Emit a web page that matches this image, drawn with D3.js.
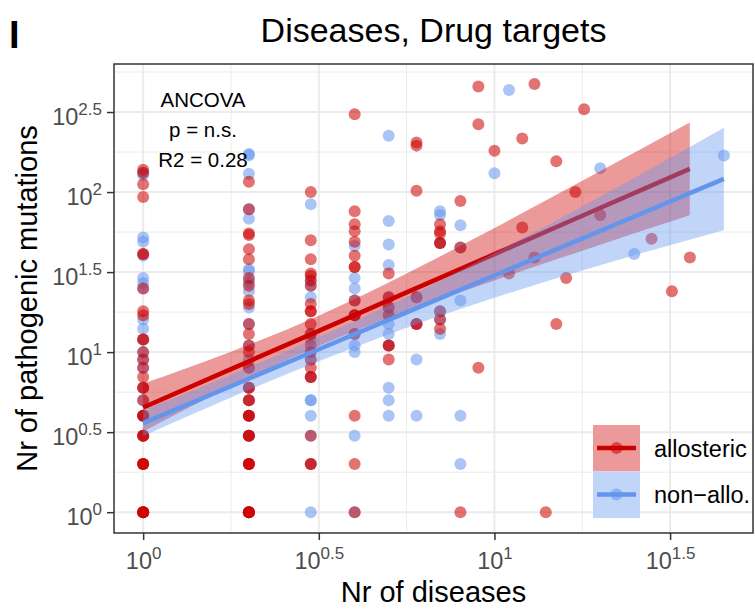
<!DOCTYPE html>
<html>
<head>
<meta charset="utf-8">
<script src="https://cdn.jsdelivr.net/npm/d3@7"></script>
<style>
  body { margin: 0; background: #fff; }
  svg text { font-family: "Liberation Sans", Arial, Helvetica, sans-serif; }
</style>
</head>
<body>
<svg id="chart" width="755" height="611"></svg>
<script>
// points: [nr of diseases, nr of pathogenic mutations]
const allosteric = [
  [1,138],[1,132],[1,112],[1,93],[1,41],[1,41],[1,25],[1,18],[1,17],[1,12],[1,12],[1,10],[1,9],[1,8],
  [1,7],[1,6],[1,6],[1,5],[1,4],[1,4],[1,4],[1,3],[1,3],[1,3],[1,2],[1,2],[1,2],[1,2],[1,1],[1,1],[1,1],[1,1],[1,1],
  [2,116],[2,78],[2,55],[2,54],[2,44],[2,38],[2,29],[2,26],[2,21],[2,20],[2,15],[2,13],[2,11],[2,10],
  [2,8],[2,6],[2,6],[2,5],[2,5],[2,4],[2,4],[2,4],[2,3],[2,3],[2,3],[2,2],[2,2],[2,2],[2,2],[2,1],[2,1],[2,1],[2,1],[2,1],
  [3,100],[3,50],[3,38],[3,31],[3,30],[3,28],[3,26],[3,20],[3,18],[3,18],[3,15],[3,13],[3,11],[3,10],
  [3,9],[3,8],[3,7],[3,7],[3,3],[3,2],[3,2],
  [4,306],[4,76],[4,63],[4,57],[4,49],[4,40],[4,34],[4,34],[4,21],[4,17],[4,17],[4,13],[4,4],[4,2],[4,1],
  [5,31],[5,22],[5,19],[5,17],[5,11],[5,11],[5,9],
  [6,204],[6,195],[6,102],[6,22],[6,15],[6,15],
  [7,63],[7,57],[7,55],[7,48],[7,48],[7,18],[7,16],[7,14],
  [8,88],[8,45],[8,1],
  [9,457],[9,265],[9,8],
  [10,181],[11,31],[12,216],[12,60],[13,473],[13,39],[14,1],[15,156],[15,15],[16,29],[17,100],
  [18,329],[20,72],[28,51],[32,24],[36,39]
];
const nonAllosteric = [
  [1,132],[1,128],[1,52],[1,49],[1,40],[1,29],[1,27],[1,25],[1,16],[1,14],[1,12],[1,10],[1,9],[1,8],
  [1,6],[1,5],[1,4],[1,3],
  [2,173],[2,170],[2,130],[2,78],[2,68],[2,33],[2,32],[2,28],[2,27],[2,24],[2,19],[2,15],[2,11],[2,9],
  [2,8],[2,6],[2,5],[2,4],[2,3],
  [3,84],[3,28],[3,26],[3,22],[3,13],[3,12],[3,10],[3,9],[3,7],[3,5],[3,5],[3,4],[3,3],[3,2],[3,1],
  [4,46],[4,29],[4,25],[4,21],[4,17],[4,13],[4,11],[4,10],[4,3],[4,1],
  [5,225],[5,66],[5,47],[5,35],[5,22],[5,19],[5,17],[5,15],[5,13],[5,11],[5,6],[5,5],[5,4],
  [6,22],[6,15],[6,9],[6,4],
  [7,76],[7,72],[7,48],[7,18],[7,16],[7,13],
  [8,62],[8,45],[8,21],[8,4],[8,2],
  [10,131],[11,434],[20,141],[25,41],[45,169]
];

// lm fits with confidence band in log10 units
const redFitX  = [0, 0.25, 0.5, 0.75, 1, 1.25, 1.556];
const redFit   = [0.654, 0.894, 1.133, 1.373, 1.612, 1.852, 2.145];
const redLo    = [0.504, 0.785, 1.038, 1.255, 1.448, 1.634, 1.855];
const redHi    = [0.804, 1.003, 1.228, 1.491, 1.776, 2.070, 2.435];
const blueFitX = [0, 0.25, 0.5, 0.75, 1, 1.25, 1.653];
const blueFit  = [0.556, 0.787, 1.018, 1.248, 1.479, 1.710, 2.082];
const blueLo   = [0.476, 0.717, 0.943, 1.153, 1.339, 1.510, 1.762];
const blueHi   = [0.636, 0.857, 1.093, 1.343, 1.619, 1.910, 2.402];

const xTicks = [0, 0.5, 1, 1.5];            // exponents of 10
const xMinor = [0.25, 0.75, 1.25];
const yTicks = [0, 0.5, 1, 1.5, 2, 2.5];
const yMinor = [0.25, 0.75, 1.25, 1.75, 2.25, 2.75];
const groups = ["allosteric", "non\u2212allo."];
const colors = ["#CC0000", "#6495ED"];
const annot = ["ANCOVA", "p = n.s.", "R2 = 0.28"];

let width = 755, height = 611,
  margins = {left: 114, right: 2, top: 64, bottom: 78};

const svg = d3.select("#chart");
const x = d3.scaleLog().domain([10 ** -0.083, 10 ** 1.736])
  .range([margins.left, width - margins.right]);
const y = d3.scaleLog().domain([10 ** -0.13, 10 ** 2.80])
  .range([height - margins.bottom, margins.top]);

const pTop = margins.top, pBot = height - margins.bottom,
  pLeft = margins.left, pRight = width - margins.right;

// grid, minor first then major
const grid = svg.append("g");
function vgrid(list, w) {
  list.forEach(e => grid.append("line")
    .attr("x1", x(10 ** e)).attr("x2", x(10 ** e)).attr("y1", pTop).attr("y2", pBot)
    .attr("stroke", "#EBEBEB").attr("stroke-width", w));
}
function hgrid(list, w) {
  list.forEach(e => grid.append("line")
    .attr("y1", y(10 ** e)).attr("y2", y(10 ** e)).attr("x1", pLeft).attr("x2", pRight)
    .attr("stroke", "#EBEBEB").attr("stroke-width", w));
}
vgrid(xMinor, 1); hgrid(yMinor, 1);
vgrid(xTicks, 2); hgrid(yTicks, 2);

// points (non-allosteric underneath)
const pts = svg.append("g");
[[nonAllosteric, colors[1]], [allosteric, colors[0]]].forEach(([set, col]) => {
  pts.selectAll(null).data(set).join("circle")
    .attr("cx", d => x(d[0]))
    .attr("cy", d => y(d[1]))
    .attr("r", 6)
    .attr("fill", col)
    .attr("fill-opacity", 0.55);
});

// fits
function fit(fx, lo, hi, mid, col) {
  let rows = fx.map((v, i) => ({x: 10 ** v, lo: 10 ** lo[i], hi: 10 ** hi[i], m: 10 ** mid[i]}));
  svg.append("path")
    .datum(rows)
    .attr("d", d3.area().curve(d3.curveMonotoneX)
      .x(d => x(d.x)).y0(d => y(d.lo)).y1(d => y(d.hi)))
    .attr("fill", col).attr("fill-opacity", 0.4);
  svg.append("path")
    .datum(rows)
    .attr("d", d3.line().x(d => x(d.x)).y(d => y(d.m)))
    .attr("stroke", col).attr("stroke-width", 4.5).attr("fill", "none");
}
fit(redFitX, redLo, redHi, redFit, colors[0]);
fit(blueFitX, blueLo, blueHi, blueFit, colors[1]);

// panel border
svg.append("rect")
  .attr("x", pLeft).attr("y", pTop).attr("width", pRight - pLeft).attr("height", pBot - pTop)
  .attr("fill", "none").attr("stroke", "#333333").attr("stroke-width", 1.5);

// axes
const xAxis = svg.append("g").attr("transform", `translate(0, ${pBot})`)
  .call(d3.axisBottom(x).tickValues(xTicks.map(e => 10 ** e)).tickSize(7).tickFormat(""));
const yAxis = svg.append("g").attr("transform", `translate(${pLeft}, 0)`)
  .call(d3.axisLeft(y).tickValues(yTicks.map(e => 10 ** e)).tickSize(7).tickFormat(""));
[xAxis, yAxis].forEach(a => {
  a.select(".domain").remove();
  a.selectAll(".tick line").attr("stroke", "#333333").attr("stroke-width", 1.5);
});

function powLabel(sel, e) {
  sel.text("10").append("tspan").attr("font-size", 17).attr("dy", -10).text(e);
}
xAxis.selectAll(".tick text").each(function(d, i) {
  d3.select(this).attr("y", 36).attr("dy", 0).attr("text-anchor", "middle")
    .attr("font-size", 23.5).attr("fill", "#4D4D4D").call(powLabel, xTicks[i]);
});
yAxis.selectAll(".tick text").each(function(d, i) {
  d3.select(this).attr("x", -12).attr("dy", 0).attr("y", 12).attr("text-anchor", "end")
    .attr("font-size", 23.5).attr("fill", "#4D4D4D").call(powLabel, yTicks[i]);
});

// titles
svg.append("text").text("Nr of diseases")
  .attr("x", (pLeft + pRight) / 2).attr("y", 602)
  .attr("text-anchor", "middle").attr("font-size", 29);
svg.append("text").text("Nr of pathogenic mutations")
  .attr("transform", `translate(37, ${(pTop + pBot) / 2}) rotate(-90)`)
  .attr("text-anchor", "middle").attr("font-size", 29);
svg.append("text").text("Diseases, Drug targets")
  .attr("x", (pLeft + pRight) / 2).attr("y", 42)
  .attr("text-anchor", "middle").attr("font-size", 34);
svg.append("text").text("I")
  .attr("x", 9).attr("y", 48).attr("font-size", 38).attr("font-weight", "bold");

// ANCOVA annotation
annot.forEach((t, i) => svg.append("text").text(t)
  .attr("x", 203).attr("y", 107 + i * 30)
  .attr("text-anchor", "middle").attr("font-size", 20.5));

// legend
const leg = svg.append("g").attr("transform", "translate(593, 425)");
groups.forEach((g, i) => {
  let row = leg.append("g").attr("transform", `translate(0, ${i * 46.5})`);
  row.append("rect").attr("width", 47).attr("height", 46.5).attr("fill", "#fff");
  row.append("rect").attr("width", 47).attr("height", 46.5)
    .attr("fill", colors[i]).attr("fill-opacity", 0.4);
  row.append("line").attr("x1", 4).attr("x2", 43).attr("y1", 23).attr("y2", 23)
    .attr("stroke", colors[i]).attr("stroke-width", 4.5);
  row.append("circle").attr("cx", 23.5).attr("cy", 23).attr("r", 6)
    .attr("fill", colors[i]).attr("fill-opacity", 0.55);
  row.append("text").text(g).attr("x", 61).attr("y", 31.5).attr("font-size", 23.5);
});
</script>
</body>
</html>
